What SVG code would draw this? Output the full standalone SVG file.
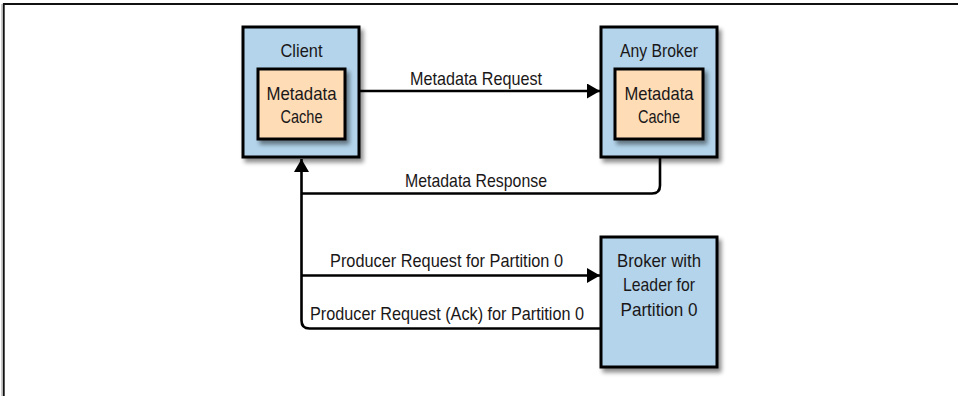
<svg xmlns="http://www.w3.org/2000/svg" width="958" height="396" viewBox="0 0 958 396">
<defs>
<marker id="arr" markerUnits="userSpaceOnUse" markerWidth="14" markerHeight="16" refX="13" refY="7.5" orient="auto">
<path d="M0,0 L13,7.5 L0,15 z" fill="#000"/>
</marker>
<filter id="sh" x="-10%" y="-10%" width="130%" height="130%">
<feDropShadow dx="3" dy="4" stdDeviation="2" flood-color="#000" flood-opacity="0.45"/>
</filter>
</defs>
<style>
text{font-family:"Liberation Sans",Arial,sans-serif;font-size:19px;fill:#1a1718;text-anchor:middle}
.box{fill:#b3d4eb;stroke:#000;stroke-width:3;filter:url(#sh)}
.cache{fill:#fddcb6;stroke:#000;stroke-width:3;filter:url(#sh)}
.conn{fill:none;stroke:#000;stroke-width:2.6}
</style>
<rect width="958" height="396" fill="#fff"/>
<path d="M2 396 V4" stroke="#bbb" stroke-width="1.5" fill="none"/>
<path d="M3.8 396 V4 H958" stroke="#111" stroke-width="1.8" fill="none"/>

<g id="connectors">
<path class="conn" d="M359 91 H600" marker-end="url(#arr)"/>
<path class="conn" d="M660 158 V185.5 Q660 193.5 652 193.5 H301.5"/>
<path class="conn" d="M600 328.5 H309.5 Q301.5 328.5 301.5 320.5 V159" marker-end="url(#arr)"/>
<path class="conn" d="M301.5 275.5 H600" marker-end="url(#arr)"/>
</g>

<g id="client">
<rect class="box" x="243" y="27" width="116" height="130"/>
<text x="301.5" y="57" textLength="42" lengthAdjust="spacingAndGlyphs">Client</text>
<rect class="cache" x="258" y="69" width="87" height="70"/>
<text x="301.5" y="100" textLength="70" lengthAdjust="spacingAndGlyphs">Metadata</text>
<text x="301.5" y="122.7" textLength="42" lengthAdjust="spacingAndGlyphs">Cache</text>
</g>

<g id="any-broker">
<rect class="box" x="601" y="27" width="116" height="130"/>
<text x="659" y="56.7" textLength="78" lengthAdjust="spacingAndGlyphs">Any Broker</text>
<rect class="cache" x="615" y="69" width="88" height="70"/>
<text x="659" y="100" textLength="69" lengthAdjust="spacingAndGlyphs">Metadata</text>
<text x="659" y="122.7" textLength="42" lengthAdjust="spacingAndGlyphs">Cache</text>
</g>

<g id="leader-broker">
<rect class="box" x="601" y="237" width="116" height="130"/>
<text x="659" y="266.5" textLength="84" lengthAdjust="spacingAndGlyphs">Broker with</text>
<text x="659" y="291" textLength="72" lengthAdjust="spacingAndGlyphs">Leader for</text>
<text x="659" y="315.5" textLength="77" lengthAdjust="spacingAndGlyphs">Partition 0</text>
</g>

<g id="labels">
<text x="476" y="85" textLength="132" lengthAdjust="spacingAndGlyphs">Metadata Request</text>
<text x="476" y="186.7" textLength="142" lengthAdjust="spacingAndGlyphs">Metadata Response</text>
<text x="446.5" y="266.7" textLength="233" lengthAdjust="spacingAndGlyphs">Producer Request for Partition 0</text>
<text x="447" y="320" textLength="274" lengthAdjust="spacingAndGlyphs">Producer Request (Ack) for Partition 0</text>
</g>
</svg>
